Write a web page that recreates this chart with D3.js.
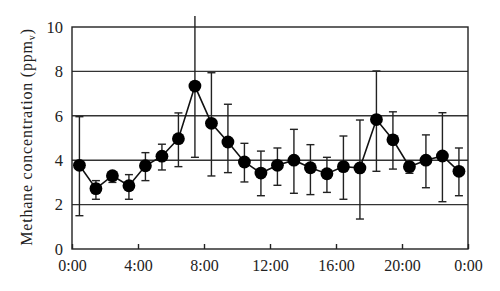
<!DOCTYPE html>
<html>
<head>
<meta charset="utf-8">
<script src="https://cdn.jsdelivr.net/npm/d3@7"></script>
<style>
  body { margin: 0; background: #fff; }
  text { font-family: "Liberation Serif", "DejaVu Serif", serif; fill: #222; }
</style>
</head>
<body>
<div id="chart"></div>
<script>
// values
var hours = [0.45, 1.45, 2.45, 3.45, 4.45, 5.45, 6.45, 7.45, 8.45, 9.45, 10.45, 11.45,
             12.45, 13.45, 14.45, 15.45, 16.45, 17.45, 18.45, 19.45, 20.45, 21.45, 22.45, 23.45];
var methane = [3.77, 2.72, 3.30, 2.85, 3.75, 4.18, 4.97, 7.34, 5.66, 4.82, 3.92, 3.42,
               3.77, 4.00, 3.66, 3.39, 3.71, 3.65, 5.83, 4.92, 3.71, 4.00, 4.19, 3.50];
var errHigh = [5.96, 3.08, 3.45, 3.35, 4.34, 4.72, 6.13, 10.5, 7.94, 6.52, 4.76, 4.41,
               4.55, 5.39, 4.70, 4.13, 5.09, 5.81, 8.02, 6.18, 3.85, 5.14, 6.14, 4.55];
var errLow = [1.50, 2.24, 3.00, 2.24, 3.08, 3.56, 3.71, 4.13, 3.29, 3.44, 3.02, 2.40,
              2.87, 2.51, 2.45, 2.55, 2.24, 1.35, 3.50, 3.60, 3.41, 2.76, 2.13, 2.40];
var xTicks = [0, 4, 8, 12, 16, 20, 24];
var xTickLabels = ["0:00", "4:00", "8:00", "12:00", "16:00", "20:00", "0:00"];
var yTicks = [0, 2, 4, 6, 8, 10];

var svgWidth = 500;
var svgHeight = 291;
var margin = { top: 27, right: 32, bottom: 42, left: 72 };
var width = svgWidth - margin.left - margin.right;
var height = svgHeight - margin.top - margin.bottom;

var svg = d3.select("#chart")
    .append("svg")
    .attr("width", svgWidth)
    .attr("height", svgHeight);

var chartGroup = svg.append("g")
    .attr("transform", `translate(${margin.left}, ${margin.top})`);

var data = hours.map(function(h, i) {
    return { h: h, v: methane[i], hi: errHigh[i], lo: errLow[i] };
});

var xScale = d3.scaleLinear().domain([0, 24]).range([0, width]);
var yScale = d3.scaleLinear().domain([0, 10]).range([height, 0]);

// horizontal grid lines
chartGroup.selectAll(".grid")
    .data(yTicks.filter(d => d > 0 && d < 10))
    .enter()
    .append("line")
    .attr("class", "grid")
    .attr("x1", 0)
    .attr("x2", width)
    .attr("y1", d => yScale(d))
    .attr("y2", d => yScale(d))
    .attr("stroke", "#333")
    .attr("stroke-width", 1.4);

// frame
chartGroup.append("rect")
    .attr("x", 0)
    .attr("y", 0)
    .attr("width", width)
    .attr("height", height)
    .attr("fill", "none")
    .attr("stroke", "#222")
    .attr("stroke-width", 1.4);

// x axis, inward ticks
var bottomAxis = d3.axisBottom(xScale)
    .tickValues(xTicks)
    .tickSize(-5)
    .tickPadding(11)
    .tickFormat((d, i) => xTickLabels[i]);

var xAxis = chartGroup.append("g")
    .attr("transform", `translate(0, ${height})`)
    .call(bottomAxis);
xAxis.select(".domain").remove();
xAxis.selectAll("line").attr("stroke", "#222").attr("stroke-width", 1.4);
xAxis.selectAll("text").attr("font-size", 16).attr("fill", "#222")
    .attr("font-family", "Liberation Serif, serif");

// y axis
var leftAxis = d3.axisLeft(yScale)
    .tickValues(yTicks)
    .tickSize(0)
    .tickPadding(9);

var yAxis = chartGroup.append("g").call(leftAxis);
yAxis.select(".domain").remove();
yAxis.selectAll("text").attr("font-size", 16.5).attr("fill", "#222")
    .attr("font-family", "Liberation Serif, serif");

// y label
var yLabel = chartGroup.append("text")
    .attr("transform", "rotate(-90)")
    .attr("x", 0 - height / 2 + 1)
    .attr("y", 0 - margin.left + 32)
    .attr("text-anchor", "middle")
    .attr("font-size", 16)
    .attr("letter-spacing", 0.8);
yLabel.append("tspan").text("Methane concentration (ppm");
yLabel.append("tspan").attr("font-size", 10).attr("dy", 3).text("v");
yLabel.append("tspan").attr("dy", -3).text(")");

// error bars
var errGroup = chartGroup.selectAll(".err")
    .data(data)
    .enter()
    .append("g")
    .attr("class", "err")
    .attr("stroke", "#222")
    .attr("stroke-width", 1.4);

errGroup.append("line")
    .attr("x1", d => xScale(d.h))
    .attr("x2", d => xScale(d.h))
    .attr("y1", d => yScale(d.hi))
    .attr("y2", d => yScale(d.lo));

errGroup.filter(d => d.hi <= 10).append("line")
    .attr("x1", d => xScale(d.h) - 4)
    .attr("x2", d => xScale(d.h) + 4)
    .attr("y1", d => yScale(d.hi))
    .attr("y2", d => yScale(d.hi));

errGroup.append("line")
    .attr("x1", d => xScale(d.h) - 4)
    .attr("x2", d => xScale(d.h) + 4)
    .attr("y1", d => yScale(d.lo))
    .attr("y2", d => yScale(d.lo));

// connecting line
var line = d3.line()
    .x(d => xScale(d.h))
    .y(d => yScale(d.v));

chartGroup.append("path")
    .datum(data)
    .attr("d", line)
    .attr("fill", "none")
    .attr("stroke", "#111")
    .attr("stroke-width", 1.6);

// markers
chartGroup.selectAll(".dot")
    .data(data)
    .enter()
    .append("circle")
    .attr("class", "dot")
    .attr("cx", d => xScale(d.h))
    .attr("cy", d => yScale(d.v))
    .attr("r", 6.4)
    .attr("fill", "#000");
</script>
</body>
</html>
